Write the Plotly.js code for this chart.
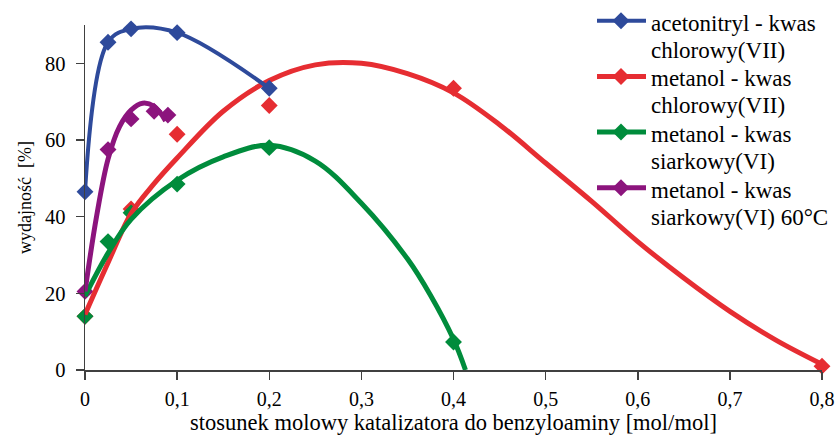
<!DOCTYPE html>
<html>
<head>
<meta charset="utf-8">
<script src="https://cdn.plot.ly/plotly-3.0.1.min.js"></script>
<style>html,body{margin:0;padding:0;background:#fff;}#chart{width:838px;height:436px;}</style>
</head>
<body>
<div id="chart"></div>
<script>
// Series names (legend text, two lines each)
const seriesLine1 = ['acetonitryl - kwas', 'metanol - kwas', 'metanol - kwas', 'metanol - kwas'];
const seriesLine2 = ['chlorowy(VII)', 'chlorowy(VII)', 'siarkowy(VI)', 'siarkowy(VI) 60°C'];
const seriesColors = ['#2E4A9B', '#E62D32', '#008C3C', '#8C147D'];

// Measured points
const blueX = [0, 0.025, 0.05, 0.1, 0.2];
const blueY = [46.5, 85.5, 89, 88, 73.5];
const redX = [0, 0.05, 0.1, 0.2, 0.4, 0.8];
const redY = [14, 42, 61.5, 69, 73.5, 1];
const greenX = [0, 0.025, 0.05, 0.1, 0.2, 0.4];
const greenY = [14, 33.5, 41, 48.5, 58, 7.3];
const purpleX = [0, 0.025, 0.05, 0.075, 0.09];
const purpleY = [20.5, 57.5, 65.5, 67.5, 66.5];

// Trend curves
const redCurveX = [0, 0.025, 0.05, 0.075, 0.1, 0.15, 0.2, 0.25, 0.3, 0.35, 0.4, 0.45, 0.5, 0.55, 0.6, 0.65, 0.7, 0.75, 0.8];
const redCurveY = [14.5, 28, 40.8, 48.6, 55.3, 67.5, 75.5, 79.6, 80.0, 77.3, 72.3, 64, 54, 44, 33.5, 24, 15.3, 7.8, 1.5];
const greenCurveX = [0, 0.025, 0.05, 0.1, 0.15, 0.2, 0.25, 0.3, 0.35, 0.375, 0.4, 0.413];
const greenCurveY = [19.3, 30.5, 39.3, 49.5, 55.6, 58.6, 54.5, 43.5, 29, 19.5, 8, 0];
const purpleCurveX = [0, 0.0125, 0.025, 0.0375, 0.05, 0.0625, 0.075, 0.0875];
const purpleCurveY = [20.5, 40, 55, 63.5, 67.8, 69.6, 68.8, 65];

// Axis ticks
const xTickVals = [0, 0.1, 0.2, 0.3, 0.4, 0.5, 0.6, 0.7, 0.8];
const xTickText = ['0', '0,1', '0,2', '0,3', '0,4', '0,5', '0,6', '0,7', '0,8'];
const yTickVals = [0, 20, 40, 60, 80];
const yTickText = ['0', '20', '40', '60', '80'];

const FONT = '"Liberation Serif", "Times New Roman", serif';
const MS = 13;
const W = 838, H = 436;
const M = {l:85, r:16, t:25, b:66};
const PW = W - M.l - M.r, PH = H - M.t - M.b;
const px2x = p => (p - M.l) / PW;
const py2y = p => (H - M.b - p) / PH;

function mk(color){ return {symbol:'diamond', size:MS, color:color, line:{width:0}}; }

const traces = [
  {x:redX, y:redY, mode:'markers', marker:mk(seriesColors[1]), name:seriesLine1[1]+' '+seriesLine2[1], showlegend:false, hoverinfo:'skip', cliponaxis:false},
  {x:greenX, y:greenY, mode:'markers', marker:mk(seriesColors[2]), name:seriesLine1[2]+' '+seriesLine2[2], showlegend:false, hoverinfo:'skip', cliponaxis:false},
  {x:purpleX, y:purpleY, mode:'markers', marker:mk(seriesColors[3]), name:seriesLine1[3]+' '+seriesLine2[3], showlegend:false, hoverinfo:'skip', cliponaxis:false},
  {x:redCurveX, y:redCurveY, mode:'lines', line:{color:seriesColors[1], width:5, shape:'spline', smoothing:1}, showlegend:false, hoverinfo:'skip'},
  {x:greenCurveX, y:greenCurveY, mode:'lines', line:{color:seriesColors[2], width:5, shape:'spline', smoothing:1}, showlegend:false, hoverinfo:'skip'},
  {x:purpleCurveX, y:purpleCurveY, mode:'lines', line:{color:seriesColors[3], width:5, shape:'spline', smoothing:1}, showlegend:false, hoverinfo:'skip'},
  {x:blueX, y:blueY, mode:'lines+markers', name:seriesLine1[0]+' '+seriesLine2[0], showlegend:false, marker:mk(seriesColors[0]), line:{color:seriesColors[0], width:4, shape:'spline', smoothing:1}, cliponaxis:false}
];

// Legend drawn as shapes + annotations (positions in pixels of the page)
const shapes = [];
const annotations = [];
const legLineX0 = 597, legLineX1 = 646, legMarkX = 621, legTextX = 650;
const legTop = 20.7, legPitch = 55.7, legLineGap = 27;
const dHalf = 8.5;
for (let i = 0; i < 4; i++) {
  const cy = legTop + i * legPitch;
  shapes.push({type:'line', xref:'paper', yref:'paper', x0:px2x(legLineX0), x1:px2x(legLineX1), y0:py2y(cy), y1:py2y(cy),
               line:{color:seriesColors[i], width: i === 0 ? 4 : 5}});
  const xs = [legMarkX, legMarkX + dHalf, legMarkX, legMarkX - dHalf].map(px2x);
  const ys = [cy - dHalf, cy, cy + dHalf, cy].map(py2y);
  shapes.push({type:'path', xref:'paper', yref:'paper',
               path:`M${xs[0]},${ys[0]} L${xs[1]},${ys[1]} L${xs[2]},${ys[2]} L${xs[3]},${ys[3]} Z`,
               fillcolor:seriesColors[i], line:{width:0}});
  annotations.push({xref:'paper', yref:'paper', x:px2x(legTextX), y:py2y(cy + 2.5), xanchor:'left', yanchor:'middle',
                    text:seriesLine1[i], showarrow:false, borderpad:0, font:{family:FONT, size:23, color:'#000'}});
  annotations.push({xref:'paper', yref:'paper', x:px2x(legTextX), y:py2y(cy + 2.5 + legLineGap), xanchor:'left', yanchor:'middle',
                    text:seriesLine2[i], showarrow:false, borderpad:0, font:{family:FONT, size:23, color:'#000'}});
}

const layout = {
  width: W, height: H,
  margin: {l:M.l, r:M.r, t:M.t, b:M.b, pad:0},
  paper_bgcolor:'#fff', plot_bgcolor:'#fff',
  font: {family: FONT, size: 20, color:'#000'},
  showlegend: false,
  shapes: shapes,
  annotations: annotations,
  xaxis: {
    range:[0, 0.8], tickvals:xTickVals, ticktext:xTickText,
    showgrid:false, zeroline:false, showline:true, linecolor:'#404040', linewidth:1.5,
    ticks:'outside', ticklen:8, tickcolor:'#404040', tickwidth:1.5,
    ticklabelstandoff:2,
    tickfont:{family:FONT, size:20, color:'#000'},
    title:{text:'stosunek molowy katalizatora do benzyloaminy [mol/mol]', font:{family:FONT, size:22.5, color:'#000'}, standoff:4},
    automargin:false, fixedrange:true
  },
  yaxis: {
    range:[0, 90], tickvals:yTickVals, ticktext:yTickText,
    showgrid:false, zeroline:false, showline:true, linecolor:'#404040', linewidth:1.5,
    ticks:'outside', ticklen:8, tickcolor:'#404040', tickwidth:1.5,
    ticklabelstandoff:6,
    tickfont:{family:FONT, size:20.5, color:'#000'},
    title:{text:'wydajność\u00a0\u00a0[%]', font:{family:FONT, size:18, color:'#000'}, standoff:8},
    automargin:false, fixedrange:true
  }
};

Plotly.newPlot('chart', traces, layout, {displayModeBar:false, staticPlot:true});
</script>
</body>
</html>
